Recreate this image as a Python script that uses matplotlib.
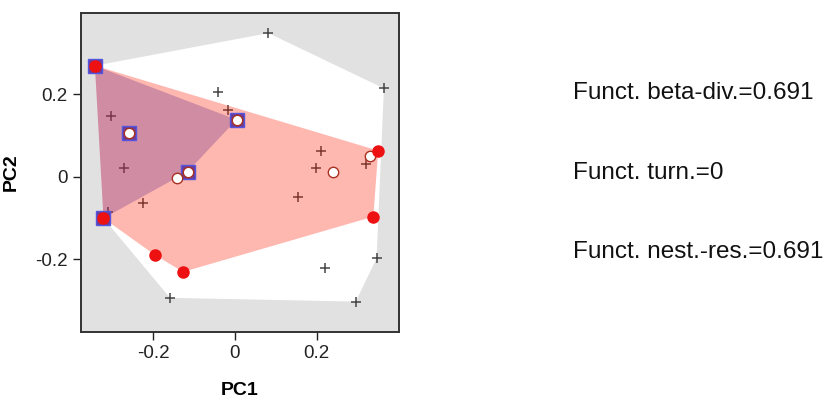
import matplotlib
matplotlib.use("Agg")
import matplotlib.pyplot as plt
import numpy as np

################################################################################
# data (PC1 / PC2 scores)
################################################################################
pool_x = [0.082, 0.365, -0.041, -0.016, -0.304, -0.272, -0.226, 0.211, 0.198,
          0.154, 0.322, 0.347, 0.220, 0.296, -0.159, -0.311]
pool_y = [0.348, 0.214, 0.206, 0.162, 0.146, 0.022, -0.065, 0.061, 0.022,
          -0.049, 0.030, -0.198, -0.222, -0.303, -0.294, -0.085]

# community 1 (squares)
sq_x = [-0.343, -0.322, -0.259, 0.004, -0.116]
sq_y = [0.269, -0.101, 0.105, 0.138, 0.012]

# community 2, filled red circles
red_x = [-0.343, -0.322, -0.196, -0.127, 0.339, 0.351]
red_y = [0.269, -0.101, -0.190, -0.231, -0.097, 0.063]

# community 2, open circles
open_x = [-0.141, 0.241, 0.332, -0.259, 0.004, -0.116]
open_y = [-0.004, 0.011, 0.049, 0.105, 0.138, 0.012]

stats = ["Funct. beta-div.=0.691", "Funct. turn.=0", "Funct. nest.-res.=0.691"]

plt.rcParams['font.family'] = ['Liberation Sans', 'DejaVu Sans']


def hull(xs, ys):
    # monotone chain convex hull
    pts = sorted(set(zip(xs, ys)))

    def cross(o, a, b):
        return (a[0] - o[0]) * (b[1] - o[1]) - (a[1] - o[1]) * (b[0] - o[0])

    lower, upper = [], []
    for p in pts:
        while len(lower) >= 2 and cross(lower[-2], lower[-1], p) <= 0:
            lower.pop()
        lower.append(p)
    for p in reversed(pts):
        while len(upper) >= 2 and cross(upper[-2], upper[-1], p) <= 0:
            upper.pop()
        upper.append(p)
    return np.array(lower[:-1] + upper[:-1])


################################################################################
# plot
################################################################################
fig = plt.figure(figsize=(8.27, 4.04), dpi=100)
ax = fig.add_axes([0.098, 0.178, 0.3845, 0.79])
ax.set_facecolor('#e1e1e1')

all_x = pool_x + sq_x + red_x + open_x
all_y = pool_y + sq_y + red_y + open_y
ax.fill(*hull(all_x, all_y).T, color='white', lw=0, zorder=1)

ax.plot(pool_x, pool_y, '+', color='#454545', ms=7, mew=1.1, zorder=2)

ax.fill(*hull(red_x + open_x, red_y + open_y).T, color='#ff1a00', alpha=0.31,
        lw=0, zorder=3)
ax.fill(*hull(sq_x, sq_y).T, color='#703387', alpha=0.33, lw=0, zorder=4)

ax.plot(sq_x, sq_y, 's', ms=9.5, mfc='#6a3d9a', mec='#5555e0', mew=1, zorder=5)
ax.plot(open_x, open_y, 'o', ms=7.5, mfc='white', mec='#a83020', mew=1, zorder=6)
ax.plot(red_x, red_y, 'o', ms=8, mfc='#ee1111', mec='#ee1111', zorder=7)

ax.set_xlim(-0.377, 0.402)
ax.set_ylim(-0.377, 0.397)
ax.set_xticks([-0.2, 0, 0.2])
ax.set_xticklabels(['-0.2', '0', '0.2'])
ax.set_yticks([-0.2, 0, 0.2])
ax.set_yticklabels(['-0.2', '0', '0.2'])
ax.tick_params(direction='out', length=6, width=1, labelsize=13.5, colors='#222222')
for s in ax.spines.values():
    s.set_linewidth(1.4)
    s.set_color('#333333')

ax.set_xlabel('PC1', fontsize=14, fontweight='bold', labelpad=14)
ax.set_ylabel('PC2', fontsize=14, fontweight='bold', labelpad=11)

for txt, yy in zip(stats, [0.770, 0.572, 0.376]):
    fig.text(0.693, yy, txt, fontsize=17.5, ha='left', va='center', color='#111111')

fig.savefig('out.png', dpi=100)
